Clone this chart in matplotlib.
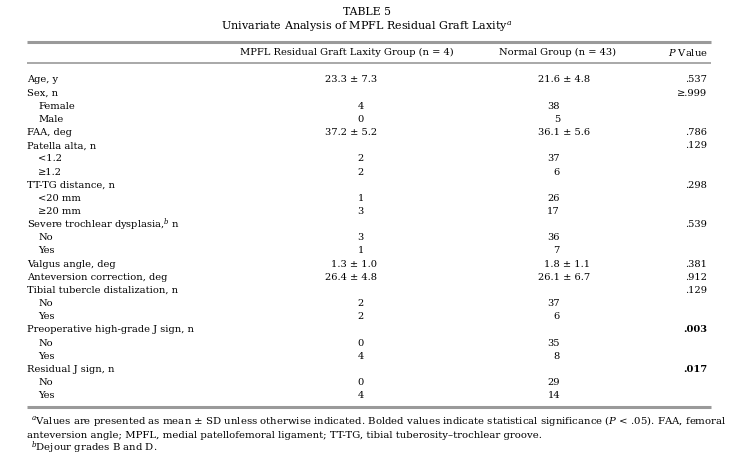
import matplotlib.pyplot as plt

plt.rcParams['font.family'] = 'DejaVu Serif'
plt.rcParams['mathtext.fontset'] = 'custom'
plt.rcParams['mathtext.rm'] = 'DejaVu Serif'
plt.rcParams['mathtext.it'] = 'DejaVu Serif:italic'
plt.rcParams['mathtext.bf'] = 'DejaVu Serif:bold'

# table content
title = "TABLE 5"
subtitle = "Univariate Analysis of MPFL Residual Graft Laxity$^{a}$"
col_headers = ["MPFL Residual Graft Laxity Group (n = 4)", "Normal Group (n = 43)", "$P$ Value"]

labels = ["Age, y", "Sex, n", "Female", "Male", "FAA, deg", "Patella alta, n", "<1.2", "≥1.2",
          "TT-TG distance, n", "<20 mm", "≥20 mm", "Severe trochlear dysplasia,$^{b}$ n", "No", "Yes",
          "Valgus angle, deg", "Anteversion correction, deg", "Tibial tubercle distalization, n",
          "No", "Yes", "Preoperative high-grade J sign, n", "No", "Yes", "Residual J sign, n", "No", "Yes"]
level = [0, 0, 1, 1, 0, 0, 1, 1, 0, 1, 1, 0, 1, 1, 0, 0, 0, 1, 1, 0, 1, 1, 0, 1, 1]
laxity = ["23.3 ± 7.3", "", "4", "0", "37.2 ± 5.2", "", "2", "2", "", "1", "3", "", "3", "1",
          "1.3 ± 1.0", "26.4 ± 4.8", "", "2", "2", "", "0", "4", "", "0", "4"]
normal = ["21.6 ± 4.8", "", "38", "5", "36.1 ± 5.6", "", "37", "6", "", "26", "17", "", "36", "7",
          "1.8 ± 1.1", "26.1 ± 6.7", "", "37", "6", "", "35", "8", "", "29", "14"]
p_vals = [".537", "≥.999", "", "", ".786", ".129", "", "", ".298", "", "", ".539", "", "",
          ".381", ".912", ".129", "", "", ".003", "", "", ".017", "", ""]
significant = [".003", ".017"]

footnotes = [
    "$^{a}$Values are presented as mean ± SD unless otherwise indicated. Bolded values indicate statistical significance ($P$ < .05). FAA, femoral",
    "anteversion angle; MPFL, medial patellofemoral ligament; TT-TG, tibial tuberosity–trochlear groove.",
    "$^{b}$Dejour grades B and D.",
]

fig = plt.figure(figsize=(7.34, 4.61), dpi=100)
ax = fig.add_axes([0, 0, 1, 1])
ax.set_xlim(0, 734)
ax.set_ylim(461, 0)
ax.axis('off')

fs = 7.1
ax.text(367, 12, title, ha='center', va='center', fontsize=7.8)
ax.text(367, 27, subtitle, ha='center', va='center', fontsize=8.0)

rule_color = '#9a9a9a'
ax.plot([27, 711], [42, 42], color=rule_color, lw=2.2, solid_capstyle='butt')
ax.plot([27, 711], [63, 63], color=rule_color, lw=1.2, solid_capstyle='butt')
ax.plot([27, 711], [407, 407], color=rule_color, lw=2.2, solid_capstyle='butt')

ax.text(347, 52.5, col_headers[0], ha='center', va='center', fontsize=fs)
ax.text(558, 52.5, col_headers[1], ha='center', va='center', fontsize=fs)
ax.text(708, 52.5, col_headers[2], ha='right', va='center', fontsize=fs)

y0, dy = 80, 13.15
for i, lab in enumerate(labels):
    y = y0 + i * dy
    ax.text(27 + 11 * level[i], y, lab, ha='left', va='center', fontsize=fs)
    for val, mean_x, count_x in [(laxity[i], 377, 364), (normal[i], 590, 560)]:
        if val:
            x = mean_x if '±' in val else count_x
            ax.text(x, y, val, ha='right', va='center', fontsize=fs)
    if p_vals[i]:
        ax.text(707, y, p_vals[i], ha='right', va='center', fontsize=fs,
                fontweight='bold' if p_vals[i] in significant else 'normal')

fn = 7.3
ax.text(31, 421, footnotes[0], ha='left', va='center', fontsize=fn)
ax.text(27, 435, footnotes[1], ha='left', va='center', fontsize=fn)
ax.text(31, 448, footnotes[2], ha='left', va='center', fontsize=fn)

fig.savefig('out.png', dpi=100, facecolor='white')
